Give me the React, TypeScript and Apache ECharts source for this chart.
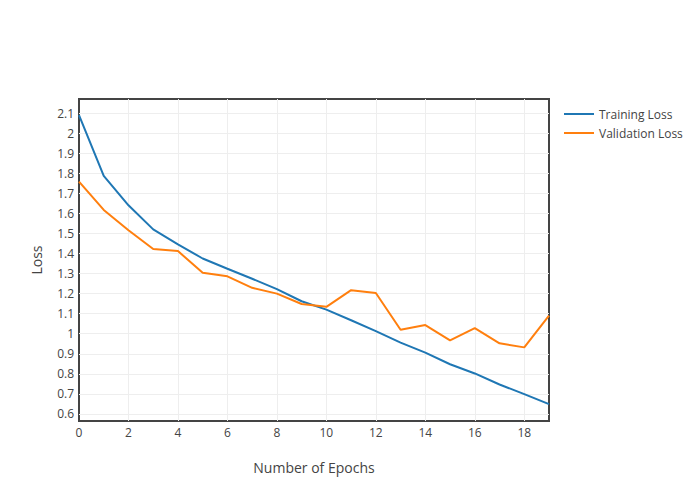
import React, { useEffect, useRef } from "react";
import * as echarts from "echarts";

const epochs = [0, 1, 2, 3, 4, 5, 6, 7, 8, 9, 10, 11, 12, 13, 14, 15, 16, 17, 18, 19];
const trainingLoss = [2.09, 1.787, 1.64, 1.52, 1.445, 1.375, 1.324, 1.274, 1.222, 1.162, 1.12, 1.067, 1.013, 0.956, 0.906, 0.848, 0.802, 0.747, 0.699, 0.649];
const validationLoss = [1.758, 1.617, 1.516, 1.422, 1.412, 1.304, 1.286, 1.229, 1.2, 1.148, 1.134, 1.217, 1.203, 1.02, 1.043, 0.967, 1.028, 0.952, 0.932, 1.09];
const seriesNames = ["Training Loss", "Validation Loss"];
const xTitle = "Number of Epochs";
const yTitle = "Loss";

export default function App() {
  const ref = useRef<HTMLDivElement>(null);
  useEffect(() => {
    if (!ref.current) return;
    const chart = echarts.init(ref.current, undefined, { renderer: "svg" });
    const font = "'Open Sans', sans-serif";
    chart.setOption({
      animation: false,
      textStyle: { fontFamily: font },
      grid: {
        left: 79,
        top: 99,
        right: 151,
        bottom: 79,
        show: true,
        borderColor: "#444",
        borderWidth: 2,
        backgroundColor: "transparent",
        containLabel: false,
      },
      legend: {
        orient: "vertical",
        left: 563,
        top: 108,
        padding: 0,
        itemWidth: 30,
        itemHeight: 14,
        itemGap: 7,
        itemStyle: { opacity: 0 },
        textStyle: { fontFamily: font, fontSize: 12, color: "#444" },
        data: seriesNames,
      },
      xAxis: {
        type: "value",
        min: 0,
        max: 19,
        interval: 2,
        name: xTitle,
        nameLocation: "middle",
        nameGap: 39,
        nameTextStyle: { fontFamily: font, fontSize: 14, color: "#444" },
        axisLine: { show: false },
        axisTick: { show: false },
        axisLabel: { fontFamily: font, fontSize: 12, color: "#444", margin: 5, showMaxLabel: false },
        splitLine: { show: true, showMinLine: false, showMaxLine: false, lineStyle: { color: "#eee", width: 1 } },
      },
      yAxis: {
        type: "value",
        min: 0.565,
        max: 2.17,
        minInterval: 0.1,
        maxInterval: 0.1,
        splitNumber: 16,
        name: yTitle,
        nameLocation: "middle",
        nameGap: 36,
        nameTextStyle: { fontFamily: font, fontSize: 14, color: "#444" },
        axisLine: { show: false },
        axisTick: { show: false },
        axisLabel: { fontFamily: font, fontSize: 12, color: "#444", margin: 5, showMinLabel: false, showMaxLabel: false },
        splitLine: { show: true, showMinLine: false, showMaxLine: false, lineStyle: { color: "#eee", width: 1 } },
      },
      series: [
        {
          name: seriesNames[0],
          type: "line",
          symbol: "none",
          lineStyle: { color: "#1f77b4", width: 2 },
          itemStyle: { color: "#1f77b4" },
          data: epochs.map((e, i) => [e, trainingLoss[i]]),
        },
        {
          name: seriesNames[1],
          type: "line",
          symbol: "none",
          lineStyle: { color: "#ff7f0e", width: 2 },
          itemStyle: { color: "#ff7f0e" },
          data: epochs.map((e, i) => [e, validationLoss[i]]),
        },
      ],
    });
    return () => chart.dispose();
  }, []);
  return <div ref={ref} style={{ width: 700, height: 500, position: "absolute", left: 0, top: 0 }} />;
}
